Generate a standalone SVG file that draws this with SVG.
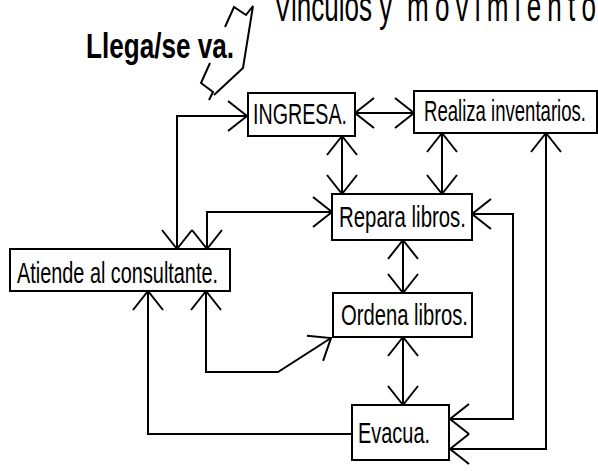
<svg xmlns="http://www.w3.org/2000/svg" width="598" height="471" viewBox="0 0 598 471">
<style>
.box{fill:#fff;stroke:#000;stroke-width:2}
.lbl{font-family:"Liberation Sans",Arial,sans-serif;font-size:30px;fill:#000}
.conn{fill:none;stroke:#000;stroke-width:2}
.title{font-family:"Liberation Sans",Arial,sans-serif;font-size:42px;fill:#000}
</style>
<defs>
<marker id="ah" markerUnits="userSpaceOnUse" markerWidth="40" markerHeight="40" refX="0" refY="0" orient="auto-start-reverse" overflow="visible">
<path d="M-19,-15 L0,0 L-19,15" fill="none" stroke="#000" stroke-width="2"/>
</marker>
</defs>
<rect width="598" height="471" fill="#fff"/>
<g id="title">
<text class="title" transform="translate(274,21) scale(0.62,1)">Vinculos y</text>
<text class="title" transform="translate(407,21) scale(0.62,1)" letter-spacing="10">movimiento</text>
</g>
<g id="llega">
<text x="86" y="58" font-family="'Liberation Sans',Arial,sans-serif" font-weight="bold" font-size="35" textLength="148" lengthAdjust="spacingAndGlyphs">Llega/se va.</text>
<polyline class="conn" points="225,27 234,7 246,15 253,6 243,68 214,95"/>
<polyline class="conn" points="210,63 201,83 213,92 209,100"/>
</g>
<g id="connectors">
<path class="conn" d="M177,249 V116 H247" marker-start="url(#ah)" marker-end="url(#ah)"/>
<path class="conn" d="M355,113 H414" marker-start="url(#ah)" marker-end="url(#ah)"/>
<path class="conn" d="M342,136 V194" marker-start="url(#ah)" marker-end="url(#ah)"/>
<path class="conn" d="M442,133 V194" marker-start="url(#ah)" marker-end="url(#ah)"/>
<path class="conn" d="M546,133 V449 H450" marker-start="url(#ah)" marker-end="url(#ah)"/>
<path class="conn" d="M472,214 H513 V419 H450" marker-start="url(#ah)" marker-end="url(#ah)"/>
<path class="conn" d="M332,212 H207 V249" marker-start="url(#ah)" marker-end="url(#ah)"/>
<path class="conn" d="M403,240 V293" marker-start="url(#ah)" marker-end="url(#ah)"/>
<path class="conn" d="M403,337 V405" marker-start="url(#ah)" marker-end="url(#ah)"/>
<path class="conn" d="M148,291 V434 H352" marker-start="url(#ah)"/>
<path class="conn" d="M206,291 V372 H278 L331,338" marker-start="url(#ah)" marker-end="url(#ah)"/>
</g>
<g id="ingresa">
<rect class="box" x="248" y="93" width="107" height="43"/>
<text class="lbl" x="253" y="124" textLength="94" lengthAdjust="spacingAndGlyphs">INGRESA.</text>
</g>
<g id="realiza">
<rect class="box" x="414" y="91" width="183" height="42"/>
<text class="lbl" x="424" y="121" textLength="162" lengthAdjust="spacingAndGlyphs">Realiza inventarios.</text>
</g>
<g id="repara">
<rect class="box" x="332" y="194" width="140" height="46"/>
<text class="lbl" x="339" y="227" textLength="127" lengthAdjust="spacingAndGlyphs">Repara libros.</text>
</g>
<g id="atiende">
<rect class="box" x="10" y="249" width="220" height="42"/>
<text class="lbl" x="17" y="283" textLength="201" lengthAdjust="spacingAndGlyphs">Atiende al consultante.</text>
</g>
<g id="ordena">
<rect class="box" x="333" y="293" width="139" height="44"/>
<text class="lbl" x="341" y="325" textLength="127" lengthAdjust="spacingAndGlyphs">Ordena libros.</text>
</g>
<g id="evacua">
<rect class="box" x="352" y="405" width="97" height="55"/>
<text class="lbl" x="358" y="443" textLength="72" lengthAdjust="spacingAndGlyphs">Evacua.</text>
</g>
</svg>
